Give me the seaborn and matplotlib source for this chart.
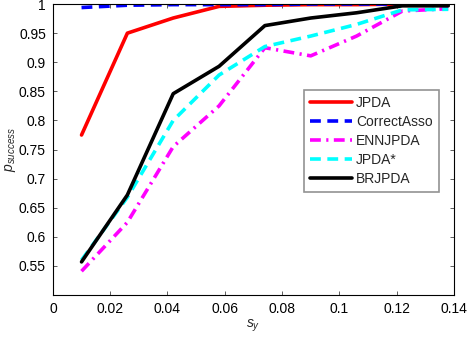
import seaborn as sns
import pandas as pd
import matplotlib.pyplot as plt

sns.set_style("white")
plt.rcParams['font.family'] = ['Liberation Sans', 'DejaVu Sans']
plt.rcParams['mathtext.fontset'] = 'custom'
plt.rcParams['mathtext.it'] = 'Liberation Sans:italic'
plt.rcParams['mathtext.rm'] = 'Liberation Sans'

s_y = [0.01, 0.026, 0.042, 0.058, 0.074, 0.09, 0.106, 0.122, 0.138]
jpda = [0.775, 0.95, 0.976, 0.996, 0.998, 0.999, 0.999, 1.0, 1.0]
correct_asso = [0.994, 0.998, 0.999, 0.999, 0.999, 1.0, 1.0, 1.0, 1.0]
ennjpda = [0.541, 0.625, 0.755, 0.825, 0.925, 0.911, 0.945, 0.988, 0.992]
jpda_star = [0.56, 0.668, 0.80, 0.878, 0.927, 0.945, 0.965, 0.99, 0.991]
brjpda = [0.557, 0.672, 0.846, 0.893, 0.963, 0.976, 0.985, 0.997, 0.997]

series = [
    ('JPDA', jpda, '#ff0000', '-'),
    ('CorrectAsso', correct_asso, '#0000ff', (0, (3, 1.8))),
    ('ENNJPDA', ennjpda, '#ff00ff', (0, (3, 1.5, 0.6, 1.5))),
    ('JPDA*', jpda_star, '#00ffff', (0, (3, 1.8))),
    ('BRJPDA', brjpda, '#000000', '-'),
]

fig, ax = plt.subplots(figsize=(4.68, 3.38), dpi=100)
for name, vals, col, ls in series:
    sns.lineplot(x=s_y, y=vals, ax=ax, color=col, linestyle=ls, linewidth=2.6, label=name)

ax.set_xlim(0, 0.14)
ax.set_ylim(0.5, 1.0)
ax.set_xticks([0, 0.02, 0.04, 0.06, 0.08, 0.1, 0.12, 0.14])
ax.set_xticklabels(['0', '0.02', '0.04', '0.06', '0.08', '0.1', '0.12', '0.14'])
ax.set_yticks([0.55, 0.6, 0.65, 0.7, 0.75, 0.8, 0.85, 0.9, 0.95, 1.0])
ax.set_yticklabels(['0.55', '0.6', '0.65', '0.7', '0.75', '0.8', '0.85', '0.9', '0.95', '1'])
ax.tick_params(direction='in', length=3, width=0.6, labelsize=10, top=True, right=True,
               bottom=True, left=True, colors='#444444', labelcolor='black', pad=5)
for sp in ax.spines.values():
    sp.set_color('black')
    sp.set_linewidth(0.8)
ax.set_xlabel('$s_y$', fontsize=10, labelpad=1)
ax.set_ylabel('$p_{success}$', fontsize=10, labelpad=1)

leg = ax.legend(loc='upper left', bbox_to_anchor=(0.626, 0.705), fontsize=10, frameon=True,
                fancybox=False, handlelength=3.0, handletextpad=0.3, borderpad=0.45,
                labelspacing=0.35, borderaxespad=0)
leg.get_frame().set_edgecolor('#777777')
leg.get_frame().set_linewidth(1.2)

fig.subplots_adjust(left=0.113, right=0.97, top=0.988, bottom=0.127)
fig.savefig('out.png', dpi=100)
